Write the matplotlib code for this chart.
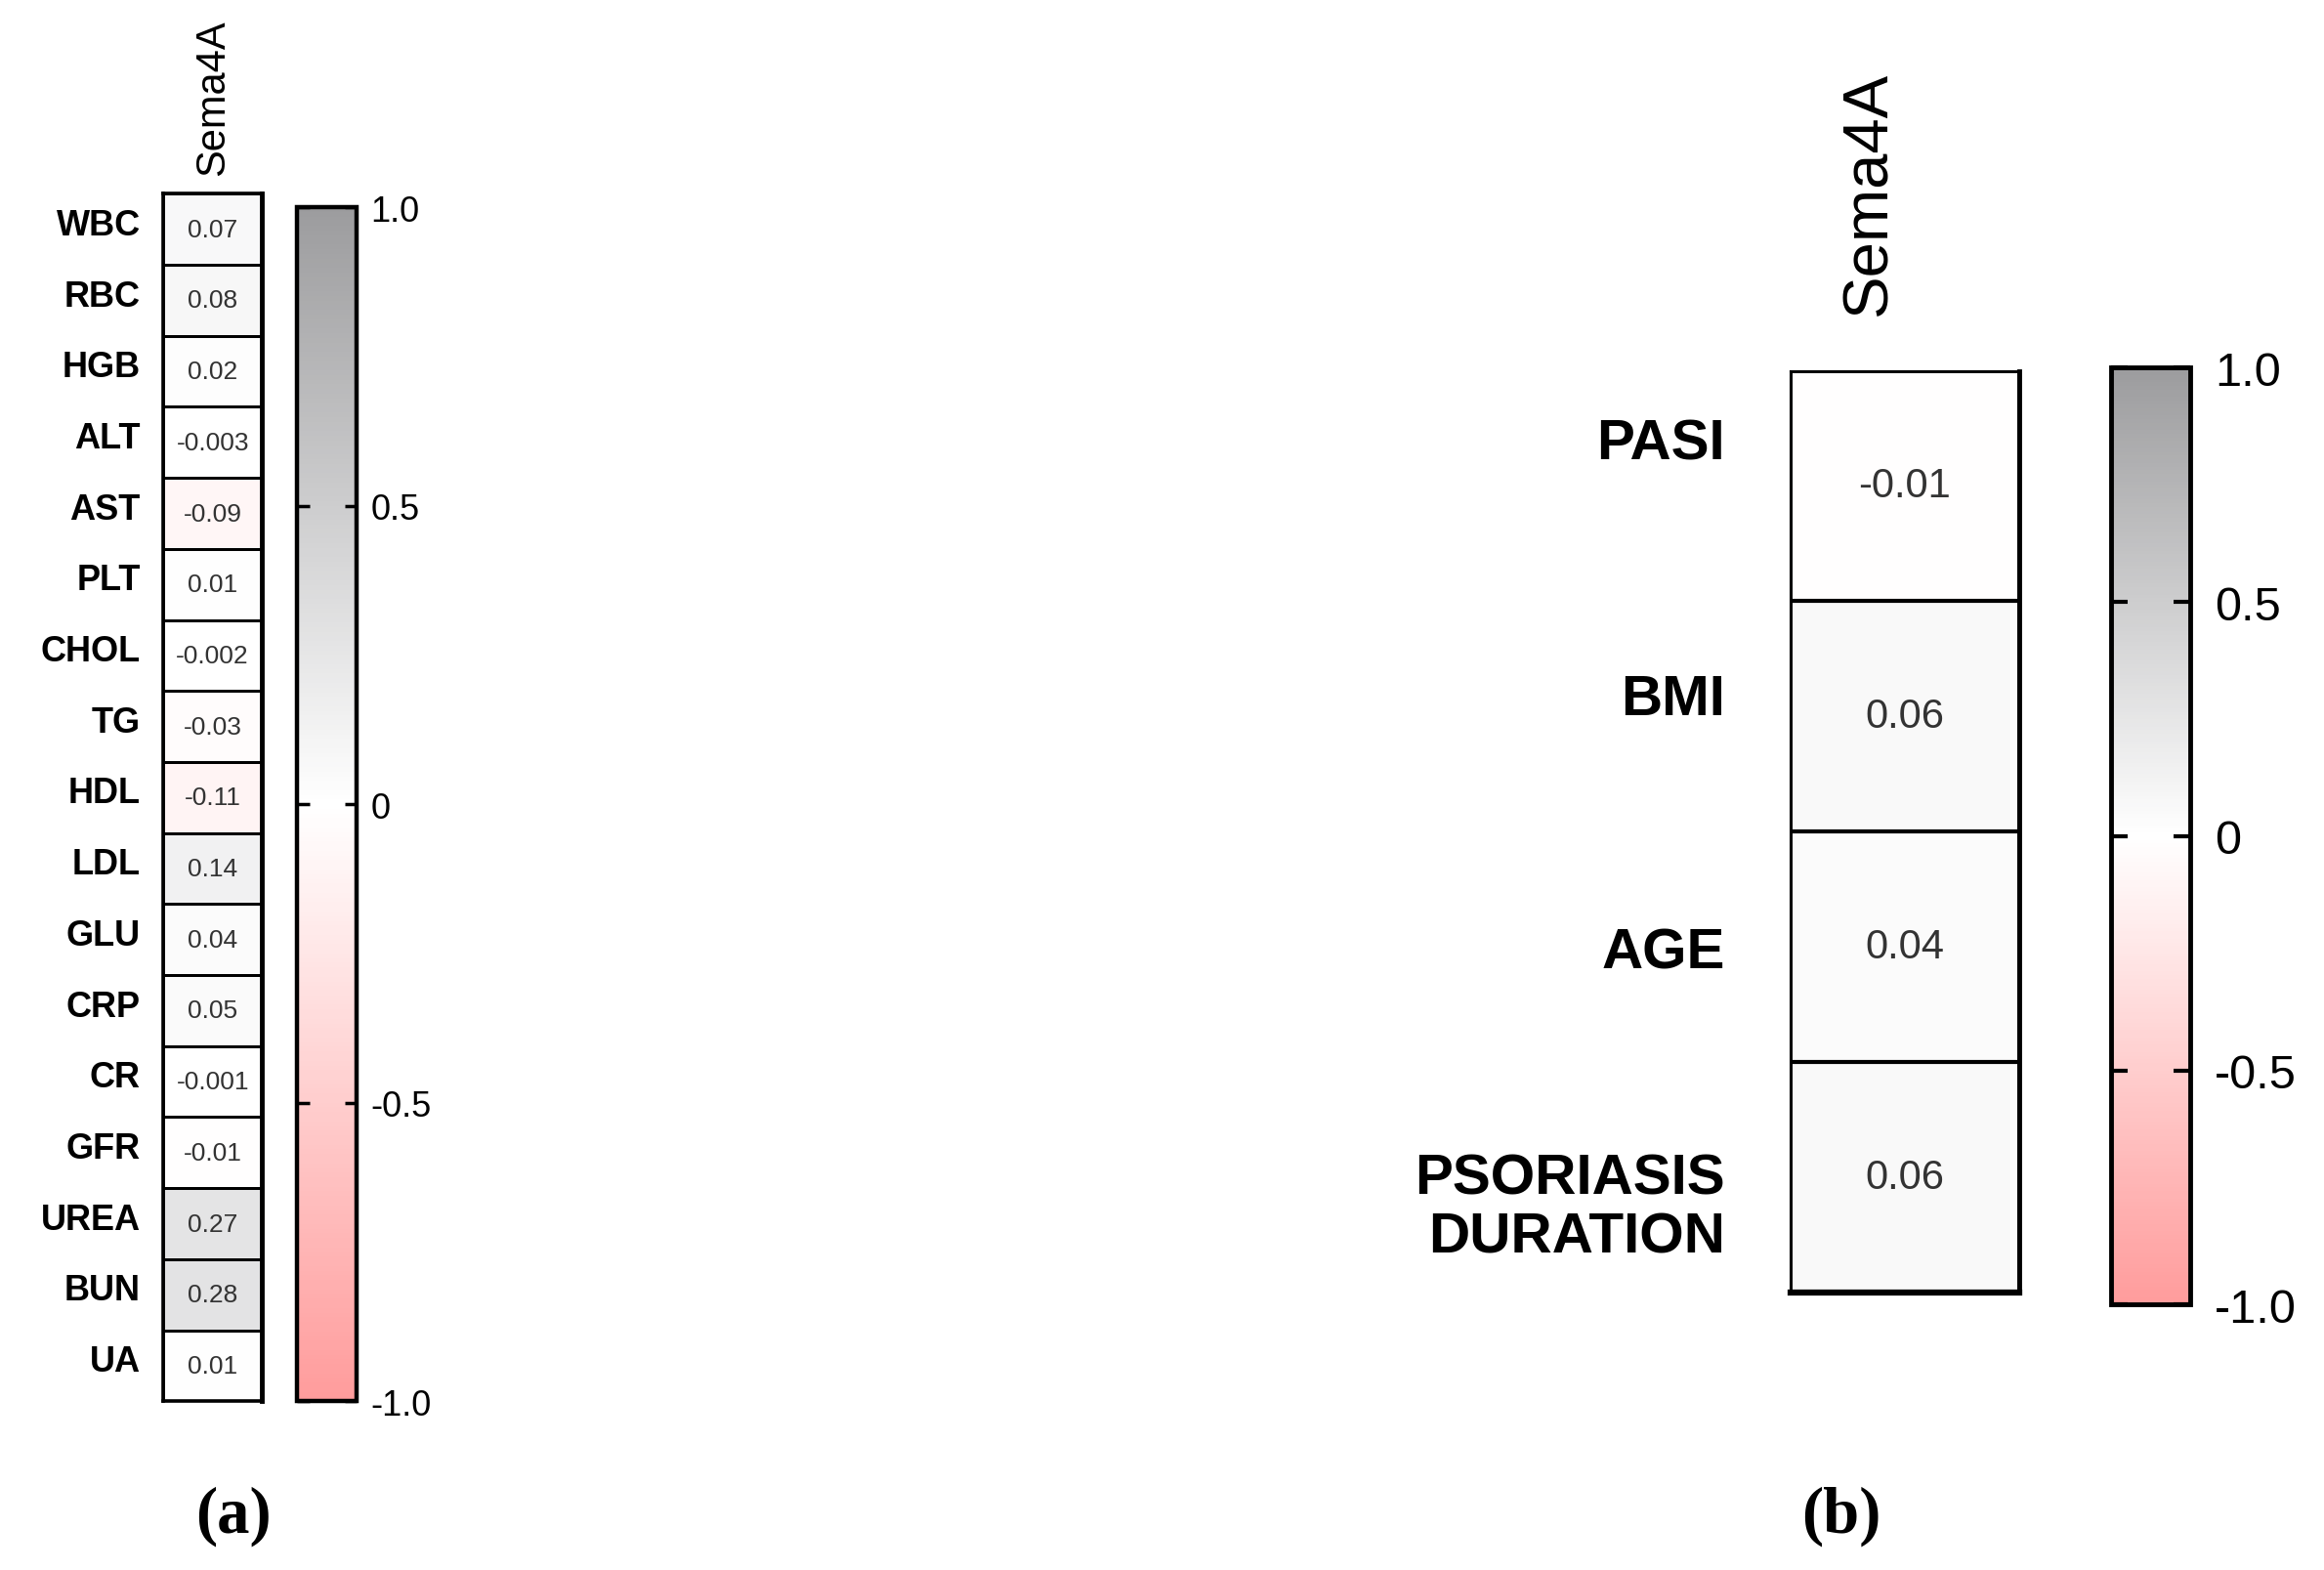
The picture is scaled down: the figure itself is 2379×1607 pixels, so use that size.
import matplotlib.pyplot as plt
import numpy as np
from matplotlib.colors import LinearSegmentedColormap
from matplotlib.transforms import ScaledTranslation

# Panel (a): lab parameters vs Sema4A
a_labels = ['WBC', 'RBC', 'HGB', 'ALT', 'AST', 'PLT', 'CHOL', 'TG', 'HDL',
            'LDL', 'GLU', 'CRP', 'CR', 'GFR', 'UREA', 'BUN', 'UA']
a_values = [0.07, 0.08, 0.02, -0.003, -0.09, 0.01, -0.002, -0.03, -0.11,
            0.14, 0.04, 0.05, -0.001, -0.01, 0.27, 0.28, 0.01]
a_text = ['0.07', '0.08', '0.02', '-0.003', '-0.09', '0.01', '-0.002', '-0.03', '-0.11',
          '0.14', '0.04', '0.05', '-0.001', '-0.01', '0.27', '0.28', '0.01']

# Panel (b): clinical parameters vs Sema4A
b_labels = ['PASI', 'BMI', 'AGE', 'PSORIASIS\nDURATION']
b_values = [-0.01, 0.06, 0.04, 0.06]
b_text = ['-0.01', '0.06', '0.04', '0.06']

col_name = 'Sema4A'
cbar_ticks = [-1.0, -0.5, 0.0, 0.5, 1.0]
cbar_ticklabels = ['-1.0', '-0.5', '0', '0.5', '1.0']

cmap = LinearSegmentedColormap.from_list(
    'pinkgray', [(0.0, '#ff9c9c'), (0.5, '#ffffff'), (1.0, '#9c9c9e')])

plt.rcParams['font.family'] = ['Liberation Sans', 'DejaVu Sans']

W, H = 1563.0, 1056.5  # layout measured on a scaled copy of the target


def rect(x0, y0, x1, y1):
    return [x0 / W, 1 - y1 / H, (x1 - x0) / W, (y1 - y0) / H]


def draw_heat(ax, values, texts, labels, val_size, lab_size, lab_pad, edge_lw, spine_lw):
    data = np.array(values).reshape(-1, 1)
    mesh = ax.pcolormesh(data, cmap=cmap, vmin=-1, vmax=1,
                         edgecolors='black', linewidth=edge_lw)
    ax.set_xlim(0, 1)
    ax.set_ylim(len(values), 0)
    for i, t in enumerate(texts):
        ax.text(0.5, i + 0.5, t, ha='center', va='center',
                fontsize=val_size, color='#333333')
    ax.set_xticks([])
    ax.set_yticks(np.arange(len(labels)) + 0.5)
    ax.set_yticklabels(labels, fontsize=lab_size, fontweight='bold')
    ax.tick_params(axis='y', length=0, pad=lab_pad)
    for s in ax.spines.values():
        s.set_linewidth(spine_lw)
    return mesh


def shift_labels(fig, ax, shifts_pt):
    # nudge row labels up/down (points, positive = up)
    for lab, dy in zip(ax.get_yticklabels(), shifts_pt):
        lab.set_transform(lab.get_transform() +
                          ScaledTranslation(0, dy / 72, fig.dpi_scale_trans))


def draw_cbar(fig, mesh, cax, lab_size, pad, outline_lw, tick_len, tick_w):
    cb = fig.colorbar(mesh, cax=cax)
    cb.set_ticks(cbar_ticks)
    cb.set_ticklabels(cbar_ticklabels)
    cb.outline.set_linewidth(outline_lw)
    cax.tick_params(axis='y', direction='in', left=True, right=True,
                    length=tick_len, width=tick_w, labelsize=lab_size, pad=pad)
    return cb


fig = plt.figure(figsize=(23.79, 16.08), dpi=100)

# ---- panel (a)
ax_a = fig.add_axes(rect(110, 131, 176, 943))
mesh_a = draw_heat(ax_a, a_values, a_text, a_labels, 19, 26, 17, 1.8, 2.6)
ax_a.spines['right'].set_linewidth(3.5)
shift_labels(fig, ax_a, [6] * len(a_labels))
ax_a.text(0.5, 1.016, col_name, transform=ax_a.transAxes, rotation=90,
          ha='center', va='bottom', fontsize=30)

cax_a = fig.add_axes(rect(200, 140, 240, 943))
draw_cbar(fig, mesh_a, cax_a, 26, 10, 3.2, 9, 2.5)

# ---- panel (b)
ax_b = fig.add_axes(rect(1204, 250, 1358, 870))
mesh_b = draw_heat(ax_b, b_values, b_text, b_labels, 30, 42, 48, 1.5, 1.5)
for i in range(1, len(b_values)):
    ax_b.axhline(i, color='black', linewidth=3.0)
ax_b.spines['right'].set_linewidth(3.5)
ax_b.spines['bottom'].set_linewidth(4.5)
for lab in ax_b.get_yticklabels():
    lab.set_linespacing(1.15)
shift_labels(fig, ax_b, [35, 17, 0, -16])
ax_b.text(0.344, 1.061, col_name, transform=ax_b.transAxes, rotation=90,
          ha='center', va='bottom', fontsize=47)

cax_b = fig.add_axes(rect(1420, 248, 1473, 878))
draw_cbar(fig, mesh_b, cax_b, 35, 18, 3.5, 12, 3.0)

# panel letters
fig.text(157 / W, 1 - 1020 / H, '(a)', ha='center', va='center',
         fontsize=48, fontweight='bold', family='Liberation Serif')
fig.text(1238 / W, 1 - 1020 / H, '(b)', ha='center', va='center',
         fontsize=48, fontweight='bold', family='Liberation Serif')

fig.savefig('out.png', dpi=100, facecolor='white')
